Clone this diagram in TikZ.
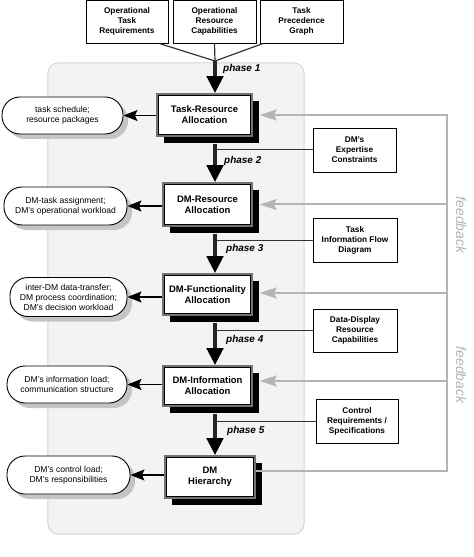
\documentclass[tikz,border=0pt]{standalone}
\usepackage{fontspec}
\setmainfont{Liberation Sans}
\usetikzlibrary{arrows.meta,shadows,calc}
\definecolor{bgfill}{HTML}{F3F3F3}
\definecolor{bgdraw}{HTML}{D6D6D6}
\definecolor{fbgray}{HTML}{B4B4B4}
\definecolor{pillshadow}{HTML}{C4C4C4}
\begin{document}
\begin{tikzpicture}[x=1bp,y=-1bp,
  panel/.style={draw=bgdraw, fill=bgfill, line width=1bp, rounded corners=10bp, inner sep=0pt},
  inbox/.style={draw=black, line width=0.9bp, fill=white, align=center, inner sep=0pt,
    font=\fontsize{8.3}{10}\selectfont\bfseries},
  sidebox/.style={draw=black, line width=0.9bp, fill=white, align=center, inner sep=0pt,
    font=\fontsize{8.3}{10}\selectfont\bfseries},
  mainbox/.style={draw=black!55, line width=1.6bp, fill=white, align=center, inner sep=0pt,
    font=\fontsize{9.5}{11}\selectfont\bfseries,
    general shadow={fill=black, shadow xshift=7bp, shadow yshift=-7bp}},
  innerframe/.style={draw=black, line width=0.8bp},
  pill/.style={draw=black, line width=0.9bp, fill=white, align=center, inner sep=0pt,
    rounded corners=18bp, font=\fontsize{8.6}{10}\selectfont,
    general shadow={fill=pillshadow, shadow xshift=5bp, shadow yshift=-5bp}},
  phase/.style={line width=4.5bp, draw=black!85, -{Triangle[width=16bp,length=17bp,color=black]}},
  merge/.style={line width=1.2bp, draw=black!80},
  sideline/.style={line width=1bp, draw=black!80},
  outarrow/.style={line width=1.3bp, draw=black, -{Stealth[length=14bp,width=11bp,inset=2.5bp]}},
  fbline/.style={line width=2bp, draw=fbgray},
  fbarrow/.style={line width=2bp, draw=fbgray, -{Stealth[length=17bp,width=11bp,inset=3bp]}},
  phaselabel/.style={anchor=west, inner sep=0pt, font=\fontsize{10}{12}\selectfont\bfseries\itshape},
  fbtext/.style={inner sep=0pt, text=fbgray, font=\fontsize{14}{16}\selectfont\itshape}
]
\useasboundingbox (0,0) rectangle (474,557);

% background panel
\node[panel, minimum width=256bp, minimum height=471bp] (panel) at (176,298.5) {};

% input boxes
\node[inbox, minimum width=82bp, minimum height=43bp] (in1) at (127,21.75) {Operational\\Task\\Requirements};
\node[inbox, minimum width=83bp, minimum height=43bp] (in2) at (214.5,21.75) {Operational\\Resource\\Capabilities};
\node[inbox, minimum width=83bp, minimum height=43bp] (in3) at (301.5,21.75) {Task\\Precedence\\Graph};

\coordinate (spine) at (215,0);
\coordinate (m) at (215,61);

% main boxes
\node[mainbox, minimum width=95bp, minimum height=42bp] (tr) at (204.5,115) {Task-Resource\\Allocation};
\node[mainbox, minimum width=89bp, minimum height=43bp] (dr) at (207.5,204.5) {DM-Resource\\Allocation};
\node[mainbox, minimum width=89bp, minimum height=41bp] (df) at (207.5,294.5) {DM-Functionality\\Allocation};
\node[mainbox, minimum width=89bp, minimum height=40bp] (di) at (207.5,386) {DM-Information\\Allocation};
\node[mainbox, minimum width=90bp, minimum height=42bp] (dh) at (210,477) {DM\\Hierarchy};
\foreach \n in {tr,dr,df,di,dh}
  \draw[innerframe] ([shift={(2.5,2.5)}]\n.north west) rectangle ([shift={(-2.5,-2.5)}]\n.south east);

% side boxes
\node[sidebox, minimum width=83bp, minimum height=44bp] (s1) at (354.5,150) {DM’s\\Expertise\\Constraints};
\node[sidebox, minimum width=84bp, minimum height=44bp] (s2) at (355,240) {Task\\Information Flow\\Diagram};
\node[sidebox, minimum width=84bp, minimum height=43bp] (s3) at (355,330.5) {Data-Display\\Resource\\Capabilities};
\node[sidebox, minimum width=82bp, minimum height=44bp] (s4) at (357,421) {Control\\Requirements /\\Specifications};

% output pills
\node[pill, minimum width=121bp, minimum height=37bp] (p1) at (62.5,115.5) {task schedule;\\resource packages};
\node[pill, minimum width=123bp, minimum height=38bp] (p2) at (65.5,206) {DM-task assignment;\\DM’s operational workload};
\node[pill, minimum width=117bp, minimum height=39bp] (p3) at (68.5,297) {inter-DM data-transfer;\\DM process coordination;\\DM’s decision workload};
\node[pill, minimum width=120bp, minimum height=37bp] (p4) at (67,384.5) {DM’s information load;\\communication structure};
\node[pill, minimum width=123bp, minimum height=38bp] (p5) at (68.5,475) {DM’s control load;\\DM’s responsibilities};

% merging inputs
\draw[merge] ([xshift=33bp]in1.south) -- (m);
\draw[merge] (in2.south) -- (m);
\draw[merge] ([xshift=-39bp]in3.south) -- (m);

% side inputs joining the spine
\draw[sideline] (s1.west) -- (s1.west -| spine);
\draw[sideline] (s2.west) -- (s2.west -| spine);
\draw[sideline] (s3.west) -- (s3.west -| spine);
\draw[sideline] (s4.west) -- (s4.west -| spine);

% phase arrows
\draw[phase] (m) -- (tr.north -| spine);
\draw[phase] ($(tr.south -| spine)+(0,7)$) -- (dr.north -| spine);
\draw[phase] ($(dr.south -| spine)+(0,7)$) -- (df.north -| spine);
\draw[phase] ($(df.south -| spine)+(0,7)$) -- (di.north -| spine);
\draw[phase] ($(di.south -| spine)+(0,7)$) -- (dh.north -| spine);

\node[phaselabel] (ph1) at (223,69) {phase 1};
\node[phaselabel] (ph2) at (224,161) {phase 2};
\node[phaselabel] (ph3) at (226,249) {phase 3};
\node[phaselabel] (ph4) at (226,340) {phase 4};
\node[phaselabel] (ph5) at (227,431) {phase 5};

% outputs
\draw[outarrow] (tr.west |- p1.east) -- (p1.east);
\draw[outarrow] (dr.west |- p2.east) -- (p2.east);
\draw[outarrow] (df.west |- p3.east) -- (p3.east);
\draw[outarrow] (di.west |- p4.east) -- (p4.east);
\draw[outarrow] (dh.west |- p5.east) -- (p5.east);

% feedback
\coordinate (fb) at (447,0);
\draw[fbarrow] ([yshift=6bp]dh.east) -| (fb |- tr.east) -- ($(tr.east)+(7,0)$);
\draw[fbarrow] (fb |- dr.east) -- ($(dr.east)+(7,0)$);
\draw[fbarrow] ($(fb |- df.east)+(0,-1.5)$) -- ($(df.east)+(7,-1.5)$);
\draw[fbarrow] ($(fb |- di.east)+(0,-5)$) -- ($(di.east)+(7,-5)$);

\node[fbtext, rotate=-90] (fbl1) at (461,225) {feedback};
\node[fbtext, rotate=-90] (fbl2) at (461,375) {feedback};
\end{tikzpicture}
\end{document}
